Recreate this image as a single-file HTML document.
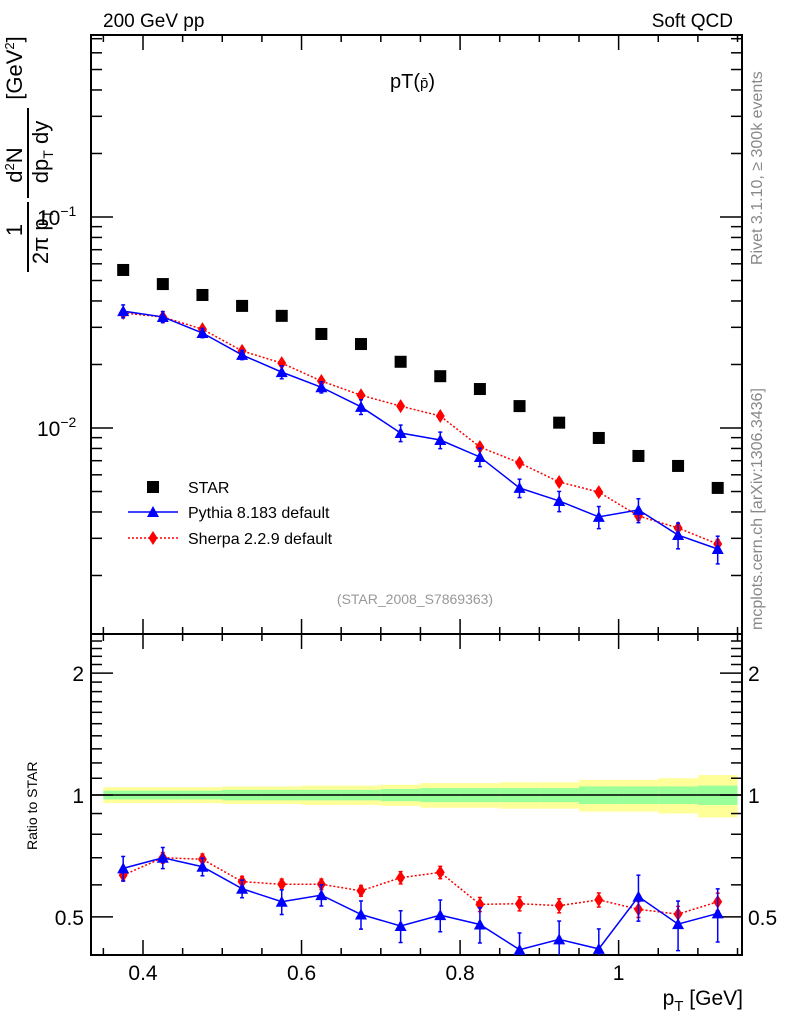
<!DOCTYPE html>
<html><head><meta charset="utf-8"><style>
body{margin:0;background:#fff;}
svg text{font-family:"Liberation Sans",Arial,sans-serif;}
</style></head><body>
<svg id="c" width="786" height="1024" xmlns="http://www.w3.org/2000/svg">
<rect width="786" height="1024" fill="#fff"/>
<text x="103" y="27" font-size="19">200 GeV pp</text>
<text x="733" y="27" font-size="19" text-anchor="end">Soft QCD</text>
<text x="390" y="88" font-size="20">pT(<tspan font-size="15">p̄</tspan>)</text>
<text transform="translate(762,265) rotate(-90)" font-size="16" fill="#888">Rivet 3.1.10, ≥ 300k events</text>
<text transform="translate(762,630) rotate(-90)" font-size="16" fill="#888">mcplots.cern.ch [arXiv:1306.3436]</text>
<text x="415" y="604" font-size="14" fill="#999" text-anchor="middle">(STAR_2008_S7869363)</text>
<g font-size="22">
<text transform="translate(22,230) rotate(-90)" text-anchor="middle">1</text>
<line x1="28" y1="272" x2="28" y2="202" stroke="#000" stroke-width="2"/>
<text transform="translate(48,237) rotate(-90)" text-anchor="middle">2π p<tspan font-size="14" dy="5">T</tspan></text>
<text transform="translate(22,165) rotate(-90)" text-anchor="middle">d<tspan font-size="13" dy="-8">2</tspan><tspan dy="8">N</tspan></text>
<line x1="28" y1="198" x2="28" y2="108" stroke="#000" stroke-width="2"/>
<text transform="translate(48,152) rotate(-90)" text-anchor="middle">dp<tspan font-size="14" dy="5">T</tspan><tspan dy="-5"> dy</tspan></text>
<text transform="translate(22,68) rotate(-90)" text-anchor="middle">[GeV<tspan font-size="13" dy="-8">2</tspan><tspan dy="8">]</tspan></text>
</g>
<text transform="translate(37,850) rotate(-90)" font-size="14">Ratio to STAR</text>
<text x="743" y="1005" font-size="21" text-anchor="end">p<tspan font-size="15" dy="6">T</tspan><tspan dy="-6"> [GeV]</tspan></text>
<g id="g"></g>
</svg>
<script>
const xs=[0.375,0.425,0.475,0.525,0.575,0.625,0.675,0.725,0.775,0.825,0.875,0.925,0.975,1.025,1.075,1.125];
const star=[0.0561,0.0481,0.0427,0.0379,0.0340,0.0279,0.0250,0.0206,0.0176,0.0153,0.0127,0.0106,0.00897,0.00737,0.00661,0.00520];
const pythia=[0.0358,0.0336,0.0282,0.0222,0.0184,0.0156,0.0126,0.00947,0.00877,0.00729,0.00520,0.00451,0.00379,0.00409,0.00311,0.00267];
const sherpa=[0.0351,0.0336,0.0294,0.0232,0.0203,0.0167,0.0143,0.0127,0.0114,0.00813,0.00683,0.00555,0.00497,0.00383,0.00336,0.00282];
const pythiaRatio=[0.659,0.700,0.665,0.587,0.545,0.566,0.507,0.475,0.505,0.479,0.415,0.440,0.417,0.561,0.480,0.510];
const sherpaRatio=[0.634,0.700,0.694,0.611,0.602,0.602,0.580,0.625,0.644,0.537,0.539,0.533,0.551,0.522,0.508,0.545];
const pythiaErr=[0.07,0.06,0.05,0.05,0.07,0.06,0.08,0.09,0.09,0.1,0.1,0.11,0.12,0.13,0.14,0.15];
const sherpaErr=[0.03,0.03,0.03,0.03,0.03,0.03,0.03,0.035,0.035,0.04,0.04,0.04,0.04,0.045,0.045,0.05];
const starTot=[0.045,0.045,0.045,0.05,0.05,0.055,0.055,0.06,0.07,0.07,0.075,0.075,0.09,0.09,0.10,0.12];
const starStat=[0.025,0.025,0.025,0.03,0.03,0.03,0.03,0.035,0.04,0.04,0.04,0.04,0.05,0.05,0.05,0.055];
const xTicks=[0.4,0.6,0.8,1.0];
const xTickLabels=["0.4","0.6","0.8","1"];
const ratioTicks=[0.5,1,2];
const ratioTickLabels=["0.5","1","2"];

const L=91,R=742,T=35,MB=634,RB=955;
const X=v=>143+(v-0.4)*792.7;
const Y=v=>217-(Math.log10(v)+1)*211;
const YR=v=>795-Math.log10(v)*405;
const NS="http://www.w3.org/2000/svg";
const g=document.getElementById('g');
function el(t,a,p){const e=document.createElementNS(NS,t);for(const k in a)e.setAttribute(k,a[k]);(p||g).appendChild(e);return e;}

xs.forEach((x,i)=>{
 const x0=X(x-0.025),x1=X(x+0.025);
 const b=el('rect',{x:x0,y:YR(1+starTot[i]),width:x1-x0,height:YR(1-starTot[i])-YR(1+starTot[i]),fill:'#ffff99'});
 
 
 const s=el('rect',{x:x0,y:YR(1+starStat[i]),width:x1-x0,height:YR(1-starStat[i])-YR(1+starStat[i]),fill:'#99ff99'});
 
 
});
const one=el('line',{x1:L,x2:R,y1:YR(1),y2:YR(1),stroke:'#000','stroke-width':1.5});



[[T,MB],[MB,RB]].forEach(([a,b],k)=>{
 const f=el('rect',{x:L,y:a,width:R-L,height:b-a,fill:'none',stroke:'#000','stroke-width':2});
 
 
 for(let v=0.35;v<=1.151;v+=0.05){
  const major=Math.abs((v*10)%2)<0.01||Math.abs((v*10)%2-2)<0.01;
  const len=major?15:7,px=X(v);
  el('line',{x1:px,x2:px,y1:a,y2:a+len,stroke:'#000','stroke-width':1.5});
  el('line',{x1:px,x2:px,y1:b,y2:b-len,stroke:'#000','stroke-width':1.5});
 }
});
for(let d=-3;d<=0;d++)for(let m=1;m<=9;m++){
 const v=m*Math.pow(10,d);const py=Y(v);if(py<T||py>MB)continue;
 const len=m==1?22:11;
 el('line',{x1:L,x2:L+len,y1:py,y2:py,stroke:'#000','stroke-width':1.5});
 el('line',{x1:R,x2:R-len,y1:py,y2:py,stroke:'#000','stroke-width':1.5});
}
[[0.1,"10",'-1'],[0.01,"10",'-2']].forEach(([v,b,e])=>{
 const t=el('text',{x:37,y:Y(v)+8,'font-size':21});
 t.innerHTML=b+'<tspan font-size="14" dy="-9">−'+e.slice(1)+'</tspan>';
 
 
});
for(let v=0.4;v<=2.51;v+=0.1){
 const py=YR(v);if(py<MB||py>RB)continue;
 const major=ratioTicks.some(r=>Math.abs(r-v)<1e-6);
 const len=major?22:11;
 el('line',{x1:L,x2:L+len,y1:py,y2:py,stroke:'#000','stroke-width':1.5});
 el('line',{x1:R,x2:R-len,y1:py,y2:py,stroke:'#000','stroke-width':1.5});
}
ratioTicks.forEach((v,i)=>{
 const t=el('text',{x:84,y:YR(v)+8,'font-size':21,'text-anchor':'end'});
 t.textContent=ratioTickLabels[i];
 
 
 const t2=el('text',{x:748,y:YR(v)+8,'font-size':21});
 t2.textContent=ratioTickLabels[i];
 
 
});
xTicks.forEach((v,i)=>{
 const t=el('text',{x:X(v),y:980,'font-size':21,'text-anchor':'middle'});
 t.textContent=xTickLabels[i];
 
 
});

function series(vals,err,yf,color,dash,marker,name,parent){
 const pts=xs.map((x,i)=>X(x)+','+yf(vals[i])).join(' ');
 const pl=el('polyline',{points:pts,fill:'none',stroke:color,'stroke-width':1.5},parent);
 if(dash)pl.setAttribute('stroke-dasharray','2,2');
 
 
 xs.forEach((x,i)=>{
  const px=X(x),y1=yf(vals[i]*(1+err[i])),y2=yf(vals[i]*(1-err[i]));
  el('line',{x1:px,x2:px,y1:y1,y2:y2,stroke:color,'stroke-width':1.5},parent);
  el('line',{x1:px-2,x2:px+2,y1:y1,y2:y1,stroke:color,'stroke-width':1.5},parent);
  el('line',{x1:px-2,x2:px+2,y1:y2,y2:y2,stroke:color,'stroke-width':1.5},parent);
  const py=yf(vals[i]);
  const m=marker=='tri'?el('polygon',{points:`${px-6},${py+5} ${px+6},${py+5} ${px},${py-6}`,fill:color},parent)
   :el('polygon',{points:`${px},${py-7} ${px+4.5},${py} ${px},${py+7} ${px-4.5},${py}`,fill:color},parent);
  
  
 });
}
series(sherpa,sherpaErr,Y,'#f00',true,'dia','sherpa');
series(pythia,pythiaErr,Y,'#00f',false,'tri','pythia');
xs.forEach((x,i)=>{
 const s=el('rect',{x:X(x)-6,y:Y(star[i])-6,width:12,height:12,fill:'#000'});
 
 
});
const cp=el('clipPath',{id:'rc'});el('rect',{x:L,y:MB,width:R-L,height:RB-MB},cp);
const rg=el('g',{'clip-path':'url(#rc)'});
series(sherpaRatio,sherpaErr,YR,'#f00',true,'dia','sherpa-ratio',rg);
series(pythiaRatio,pythiaErr,YR,'#00f',false,'tri','pythia-ratio',rg);

const lg=el('g',{});


el('rect',{x:147,y:481,width:12,height:12,fill:'#000'},lg);
let t=el('text',{x:188,y:493,'font-size':16},lg);t.textContent='STAR';


el('line',{x1:128,x2:178,y1:512,y2:512,stroke:'#00f','stroke-width':1.5},lg);
el('polygon',{points:'147,517 159,517 153,506',fill:'#00f'},lg);
t=el('text',{x:188,y:518,'font-size':16},lg);t.textContent='Pythia 8.183 default';


el('line',{x1:128,x2:178,y1:538,y2:538,stroke:'#f00','stroke-width':1.5,'stroke-dasharray':'2,2'},lg);
el('polygon',{points:'153,531 157.5,538 153,545 148.5,538',fill:'#f00'},lg);
t=el('text',{x:188,y:544,'font-size':16},lg);t.textContent='Sherpa 2.2.9 default';


</script>
</body></html>
